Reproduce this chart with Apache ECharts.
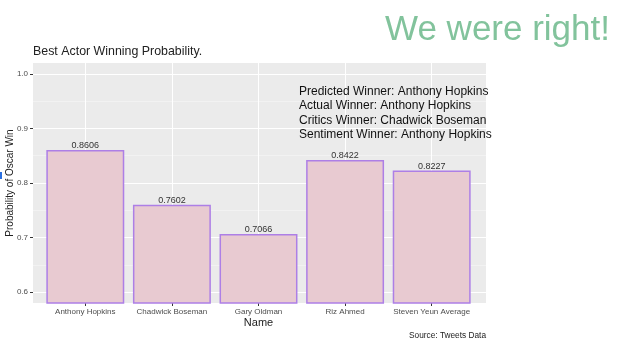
<!DOCTYPE html>
<html><head><meta charset="utf-8">
<script src="https://cdn.jsdelivr.net/npm/echarts@6/dist/echarts.min.js"></script>
<style>html,body{margin:0;padding:0;background:#fff}#c{width:617px;height:342px}</style>
</head><body><div id="c"></div>
<script>
const categories = ['Anthony Hopkins','Chadwick Boseman','Gary Oldman','Riz Ahmed','Steven Yeun Average'];
const values = [0.8606, 0.7602, 0.7066, 0.8422, 0.8227];
const yTicks = [0.6, 0.7, 0.8, 0.9, 1.0];
const yMinor = [0.65, 0.75, 0.85, 0.95];
const annotationLines = ['Predicted Winner: Anthony Hopkins','Actual Winner: Anthony Hopkins','Critics Winner: Chadwick Boseman','Sentiment Winner: Anthony Hopkins'];

const FONT = 'Liberation Sans, Arial, sans-serif';
const chart = echarts.init(document.getElementById('c'), null, {renderer:'canvas'});
const yMin = 0.58, yMax = 1.02;
chart.setOption({
  animation:false,
  backgroundColor:'#fff',
  title:[
    {text:'Best Actor Winning Probability.', left:28, top:41, textStyle:{fontFamily:FONT, fontSize:12.4, fontWeight:'normal', color:'#222'}},
    {text:'We were right!', right:2, top:8, textStyle:{fontFamily:FONT, fontSize:35, fontWeight:'normal', color:'#82c39c'}},
    {text:'Source: Tweets Data', right:126, top:327, textStyle:{fontFamily:FONT, fontSize:8.3, fontWeight:'normal', color:'#222'}}
  ],
  graphic:[
    {type:'text', left:299, top:84, style:{text:annotationLines.join('\n'), font:'12px '+FONT, lineHeight:14.5, fill:'#111'}, z:10},
    {type:'rect', shape:{x:0,y:172,width:2,height:7}, style:{fill:'#2a6fe0'}}
  ],
  grid:[
    {left:33, right:131, top:63, bottom:39, show:true, backgroundColor:'#ebebeb', borderWidth:0, z:-1, outerBoundsMode:'none', containLabel:false},
    {left:42, right:142, top:63, bottom:39, show:false, outerBoundsMode:'none', containLabel:false}
  ],
  xAxis:[
    {type:'value', gridIndex:0, min:0, max:1, show:false},
    {type:'category', gridIndex:1, data:categories,
     axisLine:{show:false},
     axisTick:{show:true, alignWithLabel:true, length:3, lineStyle:{color:'#333'}},
     axisLabel:{fontFamily:FONT, fontSize:8, color:'#4d4d4d', margin:5, interval:0},
     splitLine:{show:true, alignWithLabel:true, lineStyle:{color:'#fff', width:1}},
     name:'Name', nameLocation:'middle', nameGap:14, nameMoveOverlap:false,
     nameTextStyle:{fontFamily:FONT, fontSize:11, color:'#222'}}
  ],
  yAxis:[
    {type:'value', gridIndex:0, min:yMin, max:yMax,
     axisLine:{show:false},
     axisTick:{show:true, length:3, lineStyle:{color:'#333'}, customValues:yTicks},
     axisLabel:{fontFamily:FONT, fontSize:8, color:'#4d4d4d', margin:5, customValues:yTicks, formatter:v=>v.toFixed(1)},
     splitLine:{show:true, lineStyle:{color:'#fff', width:1.2}},
     name:'Probability of Oscar Win', nameLocation:'middle', nameGap:18, nameRotate:90, nameMoveOverlap:false,
     nameTextStyle:{fontFamily:FONT, fontSize:10, color:'#222'}},
    {type:'value', gridIndex:0, min:yMin, max:yMax,
     axisLine:{show:false}, axisLabel:{show:false},
     axisTick:{show:false, customValues:yMinor},
     splitLine:{show:true, lineStyle:{color:'#f6f6f6', width:0.6}}},
    {type:'value', gridIndex:1, min:yMin, max:yMax, show:false, splitLine:{show:false}}
  ],
  series:[{
    type:'bar', xAxisIndex:1, yAxisIndex:2, data:values, barWidth:'90%',
    itemStyle:{color:'#e8cad1', borderColor:'#ad7fe6', borderWidth:1.5},
    label:{show:true, position:'top', distance:0, fontFamily:FONT, fontSize:9, color:'#333', formatter:p=>p.value.toFixed(4)},
    z:3
  }]
});
</script></body></html>
